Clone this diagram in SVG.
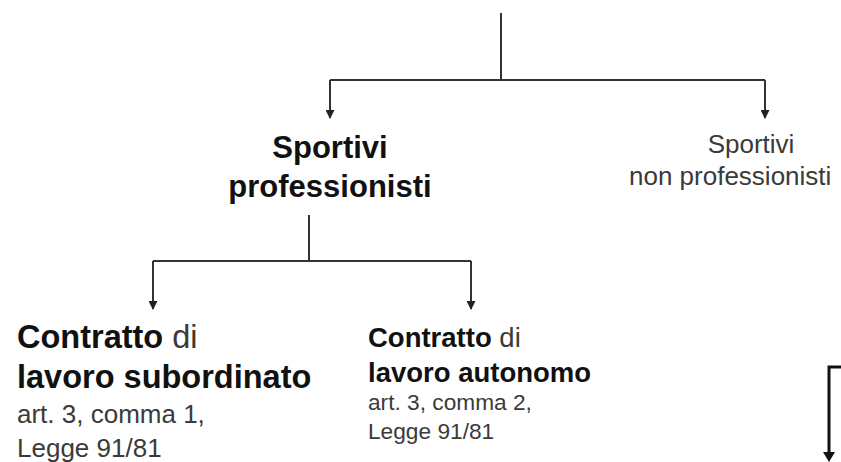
<svg xmlns="http://www.w3.org/2000/svg" width="841" height="462" viewBox="0 0 841 462">
<defs>
<marker id="ah" markerWidth="9" markerHeight="9" refX="8" refY="4.5" orient="auto" markerUnits="userSpaceOnUse" viewBox="0 0 9 9">
<path d="M0,0 L9,4.5 L0,9 Z" fill="#222"/>
</marker>
</defs>
<style>
.t{font-family:"Liberation Sans",Arial,sans-serif}
.b{font-weight:bold;fill:#111}
.r{fill:#3a3a3a}
.c{fill:none;stroke:#333;stroke-width:2}
</style>
<rect width="841" height="462" fill="#fff"/>
<g id="connectors">
<path class="c" d="M501,13 V80"/>
<path class="c" d="M330,80 H765"/>
<path class="c" d="M330,80 V118" marker-end="url(#ah)"/>
<path class="c" d="M765,80 V118" marker-end="url(#ah)"/>
<path class="c" d="M309,215 V261"/>
<path class="c" d="M153,261 H471"/>
<path class="c" d="M153,261 V309" marker-end="url(#ah)"/>
<path class="c" d="M471,261 V309" marker-end="url(#ah)"/>
<path d="M845,367 H829 V455" fill="none" stroke="#111" stroke-width="3"/>
<path d="M823,452 L835,452 L829,462 Z" fill="#111"/>
</g>
<g id="sportivi-professionisti" class="t b" font-size="31" text-anchor="middle">
<text x="330" y="158">Sportivi</text>
<text x="330" y="197">professionisti</text>
</g>
<g id="sportivi-non-professionisti" class="t r" font-size="26">
<text x="751" y="153" text-anchor="middle">Sportivi</text>
<text x="629" y="185">non professionisti</text>
</g>
<g id="lavoro-subordinato" class="t">
<text x="17" y="348" font-size="32.5"><tspan class="b">Contratto</tspan><tspan class="r" font-weight="normal"> di</tspan></text>
<text x="17" y="388" font-size="32.5" class="b">lavoro subordinato</text>
<text x="17" y="423" font-size="26" class="r">art. 3, comma 1,</text>
<text x="17" y="457" font-size="26" class="r">Legge 91/81</text>
</g>
<g id="lavoro-autonomo" class="t">
<text x="368" y="347" font-size="27.5"><tspan class="b">Contratto</tspan><tspan class="r" font-weight="normal"> di</tspan></text>
<text x="368" y="382" font-size="27.5" class="b">lavoro autonomo</text>
<text x="368" y="410" font-size="22.7" class="r">art. 3, comma 2,</text>
<text x="368" y="439" font-size="22.7" class="r">Legge 91/81</text>
</g>
</svg>
